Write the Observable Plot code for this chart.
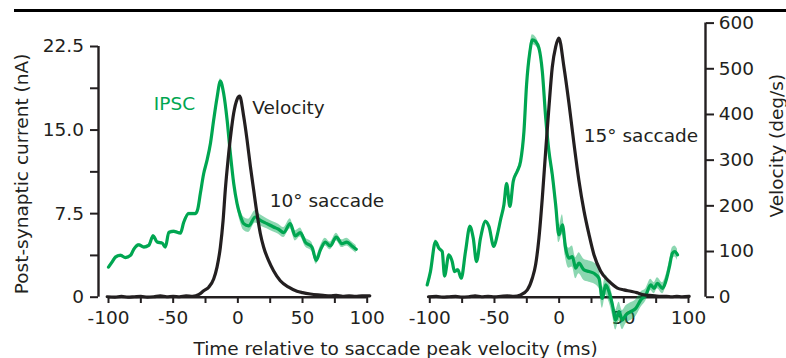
<!DOCTYPE html>
<html><head><meta charset="utf-8">
<script src="https://cdn.jsdelivr.net/npm/d3@7"></script>
<script src="https://cdn.jsdelivr.net/npm/@observablehq/plot@0.6"></script>
<style>
html,body{margin:0;padding:0;background:#fff;}
#wrap{position:relative;width:786px;height:358px;overflow:hidden;}
#topline{position:absolute;left:14px;top:8.5px;width:772px;height:3.4px;background:#000;}
</style></head><body><div id="wrap"><div id="topline"></div></div>
<script>
// ---------- data ----------
const panels = ["10", "15"];

// 10° saccade: IPSC (nA)
const ipsc10T = [-100,-97,-94.6,-90.7,-86.9,-83,-80.5,-76.6,-72.7,-68.9,-65.5,-62.4,-58.5,-56,-53.4,-49.6,-44.4,-41.9,-38,-32.8,-31,-29,-26.4,-23.8,-21.2,-18.7,-16.1,-13.5,-11,-8.3,-5.8,-3.2,-0.6,1.9,4.5,8.3,13.5,17.4,22.5,27.6,31.5,35.4,40.5,44.4,48.3,52.1,57.3,60.6,63.7,67.6,71.4,76.1,80.5,84.3,88.2,91.5];
const ipsc10 = [2.7,3.2,3.6,3.75,3.55,3.75,4.3,4.7,4.5,4.65,5.5,4.95,4.85,4.5,5.8,5.9,5.75,6.7,7.5,7.5,7.9,9.3,11.1,12.3,13.8,15.9,17.9,19.4,18.3,15.9,12.9,10.2,8.4,7.3,6.6,6.4,7.2,6.9,6.6,6.3,6.1,5.8,6.6,5.5,5.8,4.95,4.5,3.3,4.2,4.95,4.6,5.4,4.8,4.95,4.6,4.3];
const ipsc10Err = [0.12,0.12,0.12,0.12,0.12,0.12,0.12,0.12,0.12,0.12,0.12,0.12,0.12,0.12,0.12,0.12,0.12,0.12,0.12,0.12,0.12,0.12,0.12,0.12,0.2,0.2,0.2,0.2,0.2,0.2,0.2,0.25,0.35,0.55,0.6,0.6,0.55,0.5,0.45,0.45,0.45,0.45,0.45,0.45,0.4,0.4,0.4,0.35,0.35,0.35,0.35,0.35,0.35,0.35,0.35,0.35];

// 10° saccade: eye velocity (deg/s)
const vel10T = [-101,-95,-90,-85,-80,-75,-70,-65,-60,-55,-50,-45,-40,-35,-30,-26.4,-22.5,-18.7,-16.1,-13.5,-11.4,-9.7,-7.6,-5.3,-3.2,-0.6,1.4,4.5,7.1,9.7,12.2,14.8,17.4,19.9,23.8,27.6,32.8,39.3,45.7,50,56,62,66,71.4,76,81,86,91,96,102];
const vel10 = [1,0,2,0,1,2,0,1,3,1,2,1,3,2,6,14,22,40,66,110,168,235,300,360,403,433,440,396,345,286,235,183,139,110,80,58,36,22,13,10,7,5,4,3,4,2,3,2,3,3];

// 15° saccade: IPSC (nA)
const ipsc15T = [-102,-99.5,-95.6,-93,-90.4,-88.6,-85.3,-82.7,-80.9,-78.3,-75.7,-72.4,-69,-66.4,-63.9,-60.8,-56.9,-54.3,-50.5,-47.8,-45.3,-42.7,-40.6,-38.1,-35.5,-32.4,-29.8,-27.2,-25.2,-22.6,-20.7,-18.2,-15.6,-13,-10.4,-7.9,-5.3,-2.7,-0.2,2.5,5,7.6,10.2,12.8,15.3,19.2,23.1,26.9,30.8,33.4,36,38.5,41.2,43.7,46.3,48.9,51.5,55.3,59.2,63.1,67,70.8,73.4,76,79.9,82.4,85,87.6,89.4,91.5];
const ipsc15 = [1.1,2.3,5.0,4.4,4.1,1.9,3.8,3.2,2.3,2.45,1.7,4.1,6.35,5.3,3.2,5.3,6.8,6.35,4.55,5.6,6.95,8.3,10.2,8.15,10.4,11.3,12.2,14.9,19.05,22.05,23.1,22.95,22.35,20.25,16.1,13.1,11.0,8.3,5.6,6.5,4.4,3.5,3.65,2.6,3.05,2.45,2.3,2.15,1.7,-0.1,1.1,0.5,-0.7,-2.05,-1.3,-2.05,-1.6,-1.3,-1.0,-0.25,0.2,1.1,0.8,1.25,0.8,1.4,2.6,3.95,4.1,3.8];
const ipsc15Err = [0.15,0.15,0.15,0.15,0.15,0.15,0.15,0.15,0.15,0.15,0.15,0.15,0.15,0.15,0.15,0.15,0.15,0.15,0.15,0.15,0.15,0.15,0.15,0.15,0.15,0.15,0.35,0.35,0.35,0.4,0.45,0.4,0.35,0.35,0.35,0.4,0.5,0.6,0.7,0.9,0.9,0.9,0.95,0.95,0.95,0.95,0.95,0.95,0.9,0.9,0.9,0.9,0.9,0.9,0.85,0.85,0.8,0.8,0.75,0.7,0.55,0.5,0.5,0.5,0.5,0.5,0.5,0.5,0.5,0.5];

// 15° saccade: eye velocity (deg/s)
const vel15T = [-101,-95,-90,-85,-80,-75,-70,-65,-60,-55,-50,-45,-40,-35,-29.8,-24.6,-20.7,-18.2,-15.6,-13,-10.4,-7.9,-5.3,-2.7,-0.2,3.7,7.6,11.5,15.3,19.2,23.1,26.9,32.1,38.5,45,50,55.3,60,65.6,70,74,78.6,83,87,91,95,100.5];
const vel15 = [1,2,0,1,2,0,1,3,1,2,1,2,3,2,5,16,42,71,130,218,321,416,504,548,567,504,424,335,255,189,137,93,57,35,20,16,13,10,5,4,3,2,2,1,2,1,2];

// axis ticks
const xTicks = [-100,-75,-50,-25,0,25,50,75,100];
const currentTicks = [0,3.75,7.5,11.25,15,18.75,22.5];
const velocityTicks = [0,100,200,300,400,500,600];

// text
const labels = [
  {panel: "10", t: -65,  value: 16.76, text: "IPSC", kind: "ipsc"},
  {panel: "10", t: 11.1, value: 16.46, text: "Velocity", kind: "vel"},
  {panel: "10", t: 24.7, value: 8.08,  text: "10° saccade", kind: "vel"},
  {panel: "15", t: 19.05, value: 13.91, text: "15° saccade", kind: "vel"}
];
const yTitles = [
  {panel: "10", t: -166.9, value: 11.06, text: "Post-synaptic current (nA)"},
  {panel: "15", t: 168.8,  value: 13.6,  text: "Velocity (deg/s)"}
];
const xTitle = [{panel: "10", t: 121.9, value: -5.23, text: "Time relative to saccade peak velocity (ms)"}];

// ---------- build tables ----------
const F = 0.041; // deg/s -> current-axis units (shared y scale, right axis in deg/s)
const xDomain = [-107.73, 113.14];
const green = "#00a651";
const ink = "#231f20";

const ipscRows = [
  ...ipsc10T.map((t, i) => ({panel: "10", t, v: ipsc10[i], e: ipsc10Err[i]})),
  ...ipsc15T.map((t, i) => ({panel: "15", t, v: ipsc15[i], e: ipsc15Err[i]}))
];
const velRows = [
  ...vel10T.map((t, i) => ({panel: "10", t, v: vel10[i]})),
  ...vel15T.map((t, i) => ({panel: "15", t, v: vel15[i]}))
];

const plot = Plot.plot({
  width: 786,
  height: 358,
  marginLeft: 98,
  marginRight: 81,
  marginTop: 20,
  marginBottom: 61,
  style: {fontFamily: "DejaVu Sans", fontSize: "18.5px", color: ink, background: "transparent", overflow: "visible"},
  fx: {domain: panels, paddingInner: 0.1108, paddingOuter: 0, round: false, axis: null},
  x: {domain: xDomain},
  y: {domain: [0, 22.5], range: [296.7, 46]},
  marks: [
    // axis lines
    Plot.ruleY([0], {x1: -100, x2: 100, stroke: ink, strokeWidth: 2.4}),
    Plot.ruleX([{panel: "10"}], {fx: "panel", x: xDomain[0], y1: 0, y2: 22.5, stroke: ink, strokeWidth: 2.4}),
    Plot.ruleX([{panel: "15"}], {fx: "panel", x: xDomain[1], y1: 0, y2: 600 * F, stroke: ink, strokeWidth: 2.4}),
    Plot.axisX({ticks: xTicks, tickFormat: d => d % 50 === 0 ? String(d) : "", tickSize: 6, tickPadding: 7.3, strokeWidth: 2, label: null}),
    Plot.axisY({anchor: "left", ticks: currentTicks, tickFormat: d => d % 7.5 === 0 ? (d === 0 ? "0" : d.toFixed(1)) : "", tickSize: 8, tickPadding: 6.5, strokeWidth: 2, label: null}),
    Plot.axisY({anchor: "right", ticks: velocityTicks.map(v => v * F), tickFormat: d => String(Math.round(d / F)), tickSize: 8, tickPadding: 5.3, strokeWidth: 2, label: null}),
    // IPSC error band + trace
    Plot.areaY(ipscRows, {fx: "panel", x: "t", y1: d => d.v - d.e, y2: d => d.v + d.e, fill: green, fillOpacity: 0.45, curve: "monotone-x"}),
    Plot.line(ipscRows, {fx: "panel", x: "t", y: "v", stroke: green, strokeWidth: 3.2, curve: "monotone-x", strokeLinejoin: "round"}),
    // velocity trace (right axis units)
    Plot.line(velRows, {fx: "panel", x: "t", y: d => d.v * F, stroke: ink, strokeWidth: 3.2, curve: "monotone-x", strokeLinejoin: "round"}),
    // annotations
    Plot.text(labels, {fx: "panel", x: "t", y: "value", text: "text", textAnchor: "start", lineAnchor: "bottom", fill: d => d.kind === "ipsc" ? green : ink, fontSize: 18.5}),
    Plot.text(yTitles, {fx: "panel", x: "t", y: "value", text: "text", rotate: -90, textAnchor: "middle", lineAnchor: "middle", fill: ink, fontSize: 18.5}),
    Plot.text(xTitle, {fx: "panel", x: "t", y: "value", text: "text", textAnchor: "middle", lineAnchor: "bottom", fill: ink, fontSize: 18.5})
  ]
});
document.getElementById("wrap").appendChild(plot);
</script>
</body></html>
